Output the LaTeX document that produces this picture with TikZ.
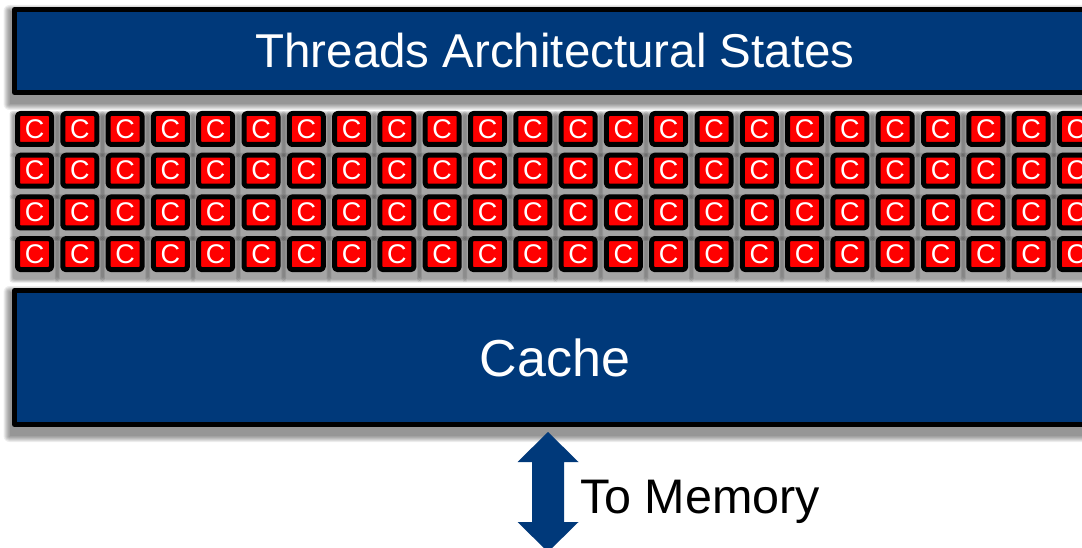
\documentclass[tikz,border=0pt]{standalone}
\usepackage{fontspec}
\setmainfont{Liberation Sans}
\usepackage{tikz}
\usetikzlibrary{positioning}
\usetikzlibrary{backgrounds}
\definecolor{memblue}{RGB}{0,57,122}

\begin{document}
\begin{tikzpicture}[line cap=round,line join=round,x=1pt,y=-1pt,
    bar/.style={draw=black,line width=5pt,fill=memblue,text=white},
    core/.style={draw=black,line width=5pt,fill=red,rounded corners=3pt,
      minimum width=34pt,minimum height=31pt,inner sep=0pt,text=white,
      font=\fontsize{27}{27}\selectfont},
    shade/.style={black,opacity=0.07}]
      \clip (0,0) rectangle (1082,548);
      % top bar
      \node[bar,minimum width=1081pt,minimum height=83pt,
        font=\fontsize{47.5}{56}\selectfont] (states) at (555,51) {\raisebox{-2pt}{Threads Architectural States}};
      % cores
      \foreach \i in {0,...,23}
        \foreach \j in {0,...,3}
          \node[core] (c-\i-\j) at ({34.5+45.3*\i},{129+41.7*\j}) {C};
      % cache
      \node[bar,minimum width=1081pt,minimum height=134pt,
        font=\fontsize{52}{60}\selectfont] (cache) at (555,357.5) {Cache};
      % to memory
      \coordinate (mem) at (548,492);
      \fill[memblue] ([yshift=60pt]mem) -- ++(30.5,30) -- ++(-14.5,0) -- ++(0,60)
        -- ++(14.5,0) -- ++(-30.5,30) -- ++(-30.5,-30) -- ++(14.5,0) -- ++(0,-60)
        -- ++(-14.5,0) -- cycle;
      \node[anchor=west,inner sep=0pt,font=\fontsize{48.5}{56}\selectfont] (memtxt)
        at ([xshift=32pt,yshift=-10pt]mem) {To Memory};
      % soft shadows
      \begin{pgfonlayer}{background}
        \fill[white] (0,0) rectangle (1082,548);
        \foreach \n in {states,cache}
          \foreach \k in {0,...,6}
            \fill[shade,rounded corners=\k pt]
              ([xshift={-2.5pt-\k pt},yshift={-9pt-\k pt}]\n.south west) rectangle
              ([xshift={2.5pt+\k pt},yshift={-4pt+\k pt}]\n.north east);
        \foreach \i in {0,...,23}
          \foreach \j in {0,...,3}
            \foreach \k in {0,...,3}
              \fill[shade,opacity=0.1,rounded corners=3pt]
                ([xshift={-2.5pt-\k pt},yshift={-7.5pt-\k pt}]c-\i-\j.south west) rectangle
                ([xshift={2.5pt+\k pt},yshift={-3pt+\k pt}]c-\i-\j.north east);
      \end{pgfonlayer}
    \end{tikzpicture}
\end{document}
